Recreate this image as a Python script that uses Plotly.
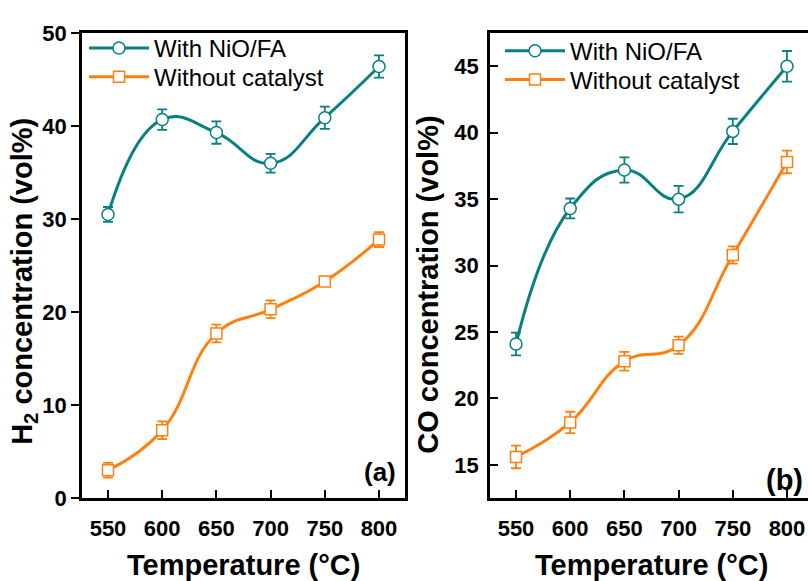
import plotly.graph_objects as go

# ---------------- data ----------------
temperature = [550, 600, 650, 700, 750, 800]
x_ticks = [550, 600, 650, 700, 750, 800]

h2_with = [30.5, 40.7, 39.3, 36.0, 40.9, 46.4]
h2_with_err = [0.8, 1.1, 1.2, 1.0, 1.2, 1.2]
h2_without = [3.0, 7.3, 17.7, 20.3, 23.3, 27.8]
h2_without_err = [0.8, 0.95, 0.95, 0.95, 0.5, 0.8]

co_with = [24.1, 34.3, 37.2, 35.0, 40.1, 45.0]
co_with_err = [0.85, 0.75, 0.95, 1.0, 0.95, 1.15]
co_without = [15.6, 18.2, 22.8, 24.0, 30.8, 37.8]
co_without_err = [0.85, 0.8, 0.7, 0.65, 0.65, 0.85]

series_names = ["With NiO/FA", "Without catalyst"]
h2_ticks = [0, 10, 20, 30, 40, 50]
co_ticks = [15, 20, 25, 30, 35, 40, 45]

# ---------------- styling ----------------
W, H = 808, 581
TEAL = "#088080"
ORANGE = "#ff8010"
FONT = "Liberation Sans"


def px(x):
    return x / W


def py(y):
    return 1 - y / H


fig = go.Figure()


def add_series(x, y, err, color, symbol, name, xa, ya, legend, msize):
    fig.add_trace(go.Scatter(
        x=x, y=y, name=name, mode="lines+markers",
        xaxis=xa, yaxis=ya, legend=legend,
        line=dict(color=color, width=3, shape="spline", smoothing=1.3),
        marker=dict(symbol=symbol, size=msize, color="white",
                    line=dict(color=color, width=1.5)),
        error_y=dict(type="data", array=err, visible=True, color=color,
                     thickness=1.8, width=5),
    ))


add_series(temperature, h2_with, h2_with_err, TEAL, "circle", series_names[0], "x", "y", "legend", 12)
add_series(temperature, h2_without, h2_without_err, ORANGE, "square", series_names[1], "x", "y", "legend2", 11)
add_series(temperature, co_with, co_with_err, TEAL, "circle", series_names[0], "x2", "y2", "legend3", 12)
add_series(temperature, co_without, co_without_err, ORANGE, "square", series_names[1], "x2", "y2", "legend4", 11)

tickfont = dict(family=FONT, size=22, color="black", weight="bold")
common_x = dict(
    tickmode="array", tickvals=x_ticks, ticktext=[str(t) for t in x_ticks],
    showline=True, linecolor="black", linewidth=2.5, mirror=True,
    ticks="inside", ticklen=8, tickwidth=2, tickcolor="black",
    tickfont=tickfont, showgrid=False, zeroline=False, ticklabelstandoff=9,
)


def leg(xp, yp):
    return dict(x=px(xp), y=py(yp), xanchor="left", yanchor="middle",
                bgcolor="rgba(0,0,0,0)", itemwidth=60,
                font=dict(family=FONT, size=24, color="black"))


fig.update_layout(
    width=W, height=H,
    margin=dict(l=0, r=0, t=0, b=0),
    paper_bgcolor="white", plot_bgcolor="white",
    xaxis=dict(domain=[px(82), px(405)], range=[526, 824], anchor="y", **common_x),
    yaxis=dict(domain=[py(508), py(22)], range=[0, 50], anchor="x",
               tickmode="array", tickvals=h2_ticks,
               showline=True, linecolor="black", linewidth=2.5, mirror=True,
               ticks="outside", ticklen=8, tickwidth=2, tickcolor="black",
               tickfont=tickfont, showgrid=False, zeroline=False),
    xaxis2=dict(domain=[px(490), 1.0], range=[526, 526 + 318 / 1.0839], anchor="y2", **common_x),
    yaxis2=dict(domain=[py(508), py(22)], range=[12.5, 47.5], anchor="x2",
                tickmode="array", tickvals=co_ticks,
                showline=True, linecolor="black", linewidth=2.5, mirror=False,
                ticks="inside", ticklen=8, tickwidth=2, tickcolor="black",
                tickfont=tickfont, showgrid=False, zeroline=False, ticklabelstandoff=4),
    legend=leg(84, 38),
    legend2=leg(84, 68),
    legend3=leg(500, 41),
    legend4=leg(500, 71),
    showlegend=True,
)

title_font = dict(family=FONT, size=29, color="black")
annotations = [
    dict(text="<b>Temperature (°C)</b>", x=px(243.5), y=py(578), xref="paper", yref="paper",
         showarrow=False, font=title_font, xanchor="center", yanchor="middle"),
    dict(text="<b>Temperature (°C)</b>", x=px(651.5), y=py(578), xref="paper", yref="paper",
         showarrow=False, font=title_font, xanchor="center", yanchor="middle"),
    dict(text="<b>H<sub>2</sub> concentration (vol%)</b>", x=px(24), y=py(282), xref="paper", yref="paper",
         showarrow=False, font=title_font, textangle=-90, xanchor="center", yanchor="middle"),
    dict(text="<b>CO concentration (vol%)</b>", x=px(428), y=py(285), xref="paper", yref="paper",
         showarrow=False, font=title_font, textangle=-90, xanchor="center", yanchor="middle"),
    dict(text="<b>(a)</b>", x=px(398), y=py(481), xref="paper", yref="paper",
         showarrow=False, font=dict(family=FONT, size=26, color="black"),
         xanchor="right", yanchor="middle"),
    dict(text="<b>(b)</b>", x=px(805), y=py(489), xref="paper", yref="paper",
         showarrow=False, font=dict(family=FONT, size=29, color="black"),
         xanchor="right", yanchor="middle"),
]
fig.update_layout(annotations=annotations)

fig.write_html("out.html")
